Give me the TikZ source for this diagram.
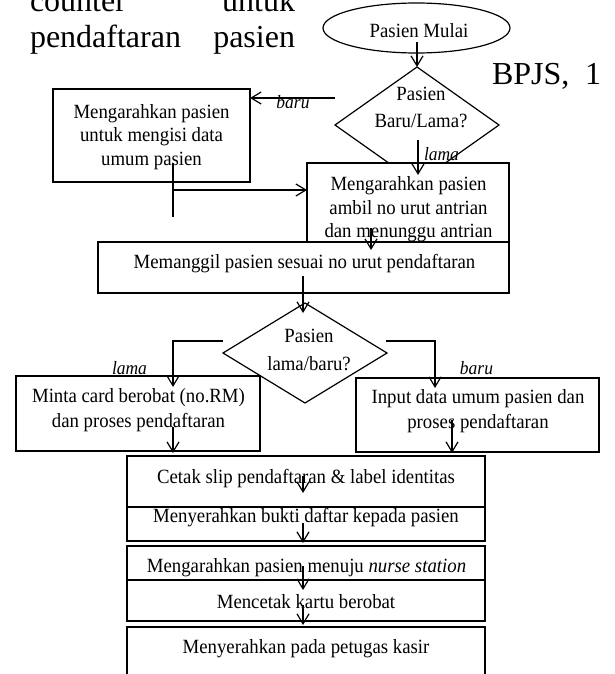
\documentclass[tikz,border=0pt]{standalone}
\usepackage{fontspec}
\setmainfont{Liberation Serif}
\newfontfamily\fcfont[FakeStretch=0.93]{Liberation Serif}
\usetikzlibrary{shapes.geometric,arrows.meta}
\begin{document}
\begin{tikzpicture}[x=1pt,y=-1pt,
  every node/.style={inner sep=0pt,outer sep=0pt},
  fc/.style={font=\fcfont\fontsize{20.2}{23.5}\selectfont,align=center},
  fcd/.style={font=\fcfont\fontsize{20.2}{27.5}\selectfont,align=center},
  fc2/.style={font=\fcfont\fontsize{20.2}{25}\selectfont,align=center},
  it/.style={font=\fcfont\fontsize{18.8}{20}\selectfont\itshape},
  big/.style={font=\fontsize{32}{38}\selectfont},
  box/.style={draw,fill=white,line width=1.2pt},
  dia/.style={draw,fill=white,diamond,line width=1.2pt},
  ar/.style={line width=1.2pt,-{Straight Barb[length=10pt,width=12pt,line width=1.2pt]}},
  ln/.style={line width=1.2pt}]
\useasboundingbox (0,0) rectangle (615,674);
% surrounding page text
\node[big,anchor=base west] (t1) at (30,12) {counter};
\node[big,anchor=base east] (t2) at (295,12) {untuk};
\node[big,anchor=base west] (t3) at (30,48) {pendaftaran};
\node[big,anchor=base east] (t4) at (295,48) {pasien};
\node[big,anchor=base west] (t5) at (492,85) {BPJS,};
\node[big,anchor=base west] (t6) at (585,85) {1};
% start
\node[draw,ellipse,line width=1.2pt,minimum width=187pt,minimum height=50pt] (start) at (416.5,28) {};
\node[fc] (startT) at (419,31) {Pasien Mulai};
% decision 1
\node[dia,minimum width=164pt,minimum height=116pt] (d1) at (417,125) {};
\node[fcd] (d1T) at (421,107.5) {Pasien\\Baru/Lama?};
\coordinate (a1s) at (417,42);
\draw[ar] (a1s) -- (d1.north);
% box 1
\node[box,minimum width=197pt,minimum height=93pt] (b1) at (151.5,135.5) {};
\node[fc] (b1T) at (151.5,136.7) {Mengarahkan pasien\\untuk mengisi data\\umum pasien};
\coordinate (a2s) at (335,98);
\draw[ar] (a2s) -- (b1.east |- a2s);
\node[it] (l1) at (293,102) {baru};
% box 2
\node[box,minimum width=202pt,minimum height=98pt] (b2) at (408,212) {};
\node[fc] (b2T) at (408.5,209.3) {Mengarahkan pasien\\ambil no urut antrian\\dan menunggu antrian};
\coordinate (a3s) at (418,140);
\coordinate (a3e) at (418,175);
\draw[ar] (a3s) -- (a3e);
\node[it] (l2) at (441.5,154) {lama};
% box 3
\node[box,minimum width=411pt,minimum height=51pt] (b3) at (303.5,267.5) {};
\node[fc] (b3T) at (304.5,264) {Memanggil pasien sesuai no urut pendaftaran};
\coordinate (l1s) at (173,163);
\coordinate (l1e) at (173,217);
\draw[ln] (l1s) -- (l1e);
\coordinate (a4s) at (173,190);
\draw[ar] (a4s) -- (b2.west |- a4s);
\coordinate (a5s) at (371,228);
\coordinate (a5e) at (371,250);
\draw[ar] (a5s) -- (a5e);
% decision 2
\node[dia,minimum width=164pt,minimum height=100pt] (d2) at (305,353) {};
\node[fcd] (d2T) at (309,350) {Pasien\\lama/baru?};
\coordinate (a6s) at (303,276);
\coordinate (a6e) at (303,313);
\draw[ar] (a6s) -- (a6e);
% branch boxes
\node[box,minimum width=244pt,minimum height=75pt] (b4) at (138,413.5) {};
\node[fc2] (b4T) at (138.5,410.5) {Minta card berobat (no.RM)\\dan proses pendaftaran};
\node[box,minimum width=243pt,minimum height=74pt] (b5) at (477.5,415) {};
\node[fc2] (b5T) at (478,411.5) {Input data umum pasien dan\\proses pendaftaran};
\coordinate (lbs) at (223,341);
\coordinate (lbc) at (173,341);
\coordinate (lbe) at (173,387);
\draw[ar] (lbs) -- (lbc) -- (lbe);
\node[it] (l3) at (129.5,368) {lama};
\coordinate (rbs) at (386,341);
\coordinate (rbc) at (435,341);
\coordinate (rbe) at (435,388);
\draw[ar] (rbs) -- (rbc) -- (rbe);
\node[it] (l4) at (476.5,368) {baru};
% lower stack
\node[box,minimum width=358pt,minimum height=51pt] (c1) at (306,481.5) {};
\node[fc] (c1T) at (306,479) {Cetak slip pendaftaran \& label identitas};
\node[box,minimum width=358pt,minimum height=34pt] (c2) at (306,524) {};
\node[fc] (c2T) at (306,518) {Menyerahkan bukti daftar kepada pasien};
\node[box,minimum width=358pt,minimum height=34pt] (c3) at (306,563) {};
\node[fc] (c3T) at (306.5,568) {Mengarahkan pasien menuju \textit{nurse station}};
\node[box,minimum width=358pt,minimum height=41pt] (c4) at (306,600.5) {};
\node[fc] (c4T) at (306,602) {Mencetak kartu berobat};
\node[box,minimum width=358pt,minimum height=73pt] (c5) at (306,663.5) {};
\node[fc] (c5T) at (306,649) {Menyerahkan pada petugas kasir};
\coordinate (a7s) at (173,427);
\coordinate (a7e) at (173,453);
\draw[ar] (a7s) -- (a7e);
\coordinate (a8s) at (452,420);
\coordinate (a8e) at (452,453);
\draw[ar] (a8s) -- (a8e);
\coordinate (a9s) at (303,476);
\coordinate (a9e) at (303,493);
\draw[ar] (a9s) -- (a9e);
\coordinate (a10s) at (303,523);
\coordinate (a10e) at (303,543);
\draw[ar] (a10s) -- (a10e);
\coordinate (a11s) at (303,566);
\coordinate (a11e) at (303,590);
\draw[ar] (a11s) -- (a11e);
\coordinate (a12s) at (303,605);
\coordinate (a12e) at (303,625);
\draw[ar] (a12s) -- (a12e);
\end{tikzpicture}
\end{document}
